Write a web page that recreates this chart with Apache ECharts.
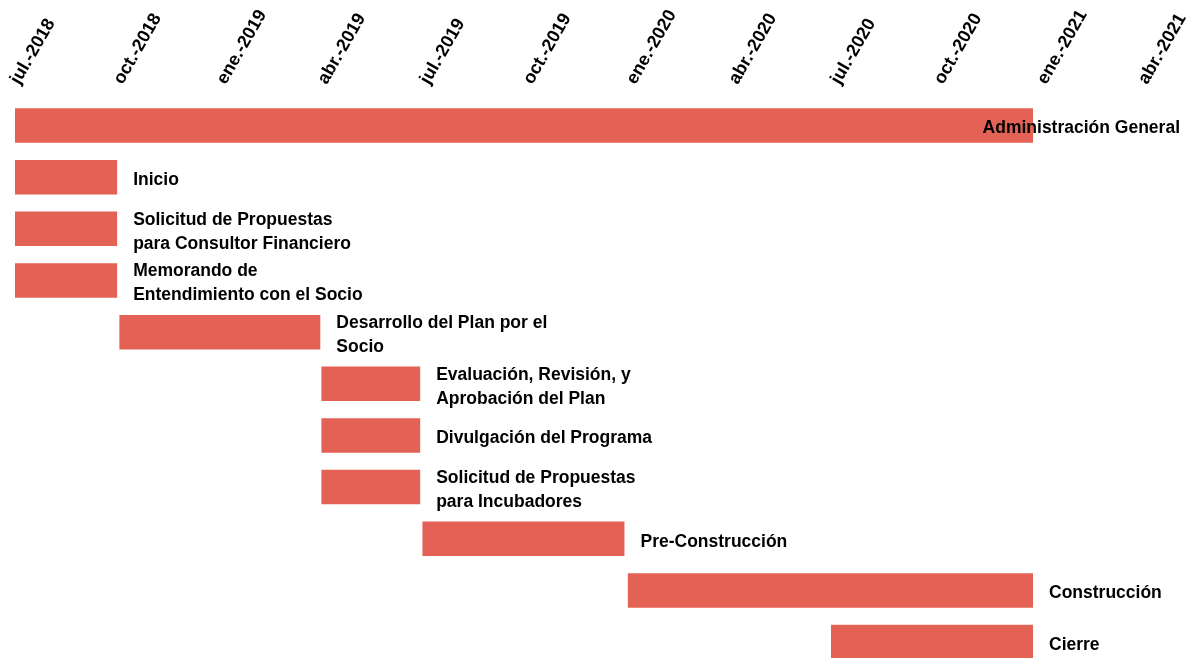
<!DOCTYPE html>
<html lang="es">
<head>
    <meta charset="UTF-8">
    <title>Cronograma</title>
    <script src="https://cdn.jsdelivr.net/npm/echarts@6/dist/echarts.min.js"></script>
    <style>
        html, body { margin: 0; padding: 0; background: #fff; }
        #chart { width: 1196px; height: 658px; }
    </style>
</head>
<body>
    <div id="chart"></div>
<script>
    // tareas (de arriba hacia abajo)
    var tasks = [
        'Administración General',
        'Inicio',
        'Solicitud de Propuestas\npara Consultor Financiero',
        'Memorando de\nEntendimiento con el Socio',
        'Desarrollo del Plan por el\nSocio',
        'Evaluación, Revisión, y\nAprobación del Plan',
        'Divulgación del Programa',
        'Solicitud de Propuestas\npara Incubadores',
        'Pre-Construcción',
        'Construcción',
        'Cierre'
    ];
    var startDates = [
        '2018-07-01', '2018-07-01', '2018-07-01', '2018-07-01', '2018-10-02',
        '2019-03-31', '2019-03-31', '2019-03-31', '2019-06-29', '2019-12-29', '2020-06-27'
    ];
    var endDates = [
        '2020-12-24', '2018-09-30', '2018-09-30', '2018-09-30', '2019-03-30',
        '2019-06-27', '2019-06-27', '2019-06-27', '2019-12-26', '2020-12-24', '2020-12-24'
    ];
    // marcas del eje
    var tickDates = [
        '2018-07-01', '2018-10-01', '2019-01-01', '2019-04-01', '2019-07-01', '2019-10-01',
        '2020-01-01', '2020-04-01', '2020-07-01', '2020-10-01', '2021-01-01', '2021-04-01'
    ];
    var tickLabels = [
        'jul.-2018', 'oct.-2018', 'ene.-2019', 'abr.-2019', 'jul.-2019', 'oct.-2019',
        'ene.-2020', 'abr.-2020', 'jul.-2020', 'oct.-2020', 'ene.-2021', 'abr.-2021'
    ];

    var barColor = '#E46255';
    var font = 'bold 17.5px "Liberation Sans", Arial, sans-serif';

    function t(s) { return Date.parse(s); }
    var tickValues = tickDates.map(t);

    var data = tasks.map(function (name, i) {
        return [i, t(startDates[i]), t(endDates[i])];
    });

    var chart = echarts.init(document.getElementById('chart'));

    function renderItem(params, api) {
        var idx = api.value(0);
        var p0 = api.coord([api.value(1), idx]);
        var p1 = api.coord([api.value(2), idx]);
        var h = 34.5;
        var label;
        if (idx === 0) {
            // la etiqueta de la primera barra va pegada al borde derecho
            label = { x: api.getWidth() - 16, y: p0[1] + 3, align: 'right' };
        } else {
            label = { x: p1[0] + 16, y: p0[1] + 3, align: 'left' };
        }
        return {
            type: 'group',
            children: [{
                type: 'rect',
                shape: { x: p0[0], y: p0[1] - h / 2, width: p1[0] - p0[0], height: h },
                style: { fill: barColor }
            }, {
                type: 'text',
                style: {
                    text: tasks[idx],
                    x: label.x,
                    y: label.y,
                    align: label.align,
                    verticalAlign: 'middle',
                    font: font,
                    fill: '#000',
                    lineHeight: 24
                }
            }]
        };
    }

    chart.setOption({
        animation: false,
        grid: { left: 15, right: 53, top: 99.7, height: 568.2, outerBoundsMode: 'none' },
        xAxis: {
            type: 'value',
            position: 'top',
            min: tickValues[0],
            max: tickValues[tickValues.length - 1],
            axisLine: { show: false },
            axisTick: { show: false },
            splitLine: { show: false },
            axisLabel: {
                customValues: tickValues,
                rotate: -60,
                margin: 17,
                color: '#000',
                fontFamily: '"Liberation Sans", Arial, sans-serif',
                fontWeight: 'bold',
                fontSize: 18,
                formatter: function (v) {
                    var i = tickValues.indexOf(v);
                    return i >= 0 ? tickLabels[i] : '';
                }
            }
        },
        yAxis: {
            type: 'category',
            inverse: true,
            data: tasks,
            axisLine: { show: false },
            axisTick: { show: false },
            axisLabel: { show: false },
            splitLine: { show: false }
        },
        series: [{
            type: 'custom',
            renderItem: renderItem,
            encode: { x: [1, 2], y: 0 },
            data: data
        }]
    });
</script>
</body>
</html>
